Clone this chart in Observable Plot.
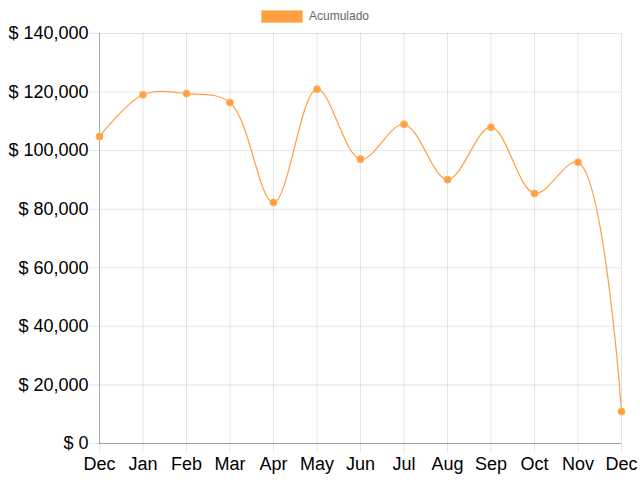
<!DOCTYPE html>
<html><head><meta charset="utf-8">
<script src="https://cdn.jsdelivr.net/npm/d3@7"></script>
<script src="https://cdn.jsdelivr.net/npm/@observablehq/plot@0.6"></script>
<style>
body{margin:0;background:#fff;}
#wrap{position:relative;width:640px;height:480px;font-family:"Liberation Sans",Arial,sans-serif;}
#legend{position:absolute;top:9px;left:-5px;width:640px;display:flex;justify-content:center;align-items:center;font-size:12px;color:#666;}
#legend .box{width:40px;height:11px;background:#ff9f40;border:1px solid #ffc58a;margin-right:6px;}
</style></head><body>
<div id="wrap"><div id="legend"><span class="box"></span><span>Acumulado</span></div></div>
<script>
const labels = ["Dec","Jan","Feb","Mar","Apr","May","Jun","Jul","Aug","Sep","Oct","Nov","Dec"];
const values = [104800,119100,119500,116400,82300,121000,97100,109000,90100,108000,85400,96000,10900];
const yTicks = [0,20000,40000,60000,80000,100000,120000,140000];
const data = values.map((v,i)=>({i, v}));
const fmt = d => "$ " + d3.format(",")(d);
const chart = Plot.plot({
  width: 640, height: 480,
  marginLeft: 99, marginRight: 19, marginTop: 33, marginBottom: 37,
  style: {fontFamily: "Liberation Sans, Arial, sans-serif", fontSize: "18px", color: "#000", background: "transparent", overflow: "visible"},
  x: {type: "linear", domain: [0, 12], label: null},
  y: {type: "linear", domain: [0, 140000], label: null},
  marks: [
    Plot.gridX(d3.range(13), {stroke: "#000", strokeOpacity: 0.1}),
    Plot.gridY(yTicks, {stroke: "#000", strokeOpacity: 0.1}),
    Plot.axisX(d3.range(13), {tickFormat: i => labels[i], tickSize: 9, tickPadding: 5, stroke: "#000", strokeOpacity: 0.1, fill: "#000", fontSize: 18}),
    Plot.axisY(yTicks, {tickFormat: fmt, tickSize: 10, tickPadding: 1, stroke: "#000", strokeOpacity: 0.1, fill: "#000", fontSize: 18}),
    Plot.ruleY([0], {stroke: "#000", strokeOpacity: 0.3}),
    Plot.ruleX([0], {stroke: "#000", strokeOpacity: 0.25}),
    Plot.line(data, {x: "i", y: "v", stroke: "#ff9f40", strokeWidth: 1.2, curve: "catmull-rom"}),
    Plot.dot(data, {x: "i", y: "v", r: 3.5, fill: "#ff9f40", stroke: "#ffb366", strokeWidth: 1})
  ]
});
document.getElementById("wrap").prepend(chart);
chart.style.position = "absolute"; chart.style.top = "0"; chart.style.left = "0";
</script>
</body></html>
